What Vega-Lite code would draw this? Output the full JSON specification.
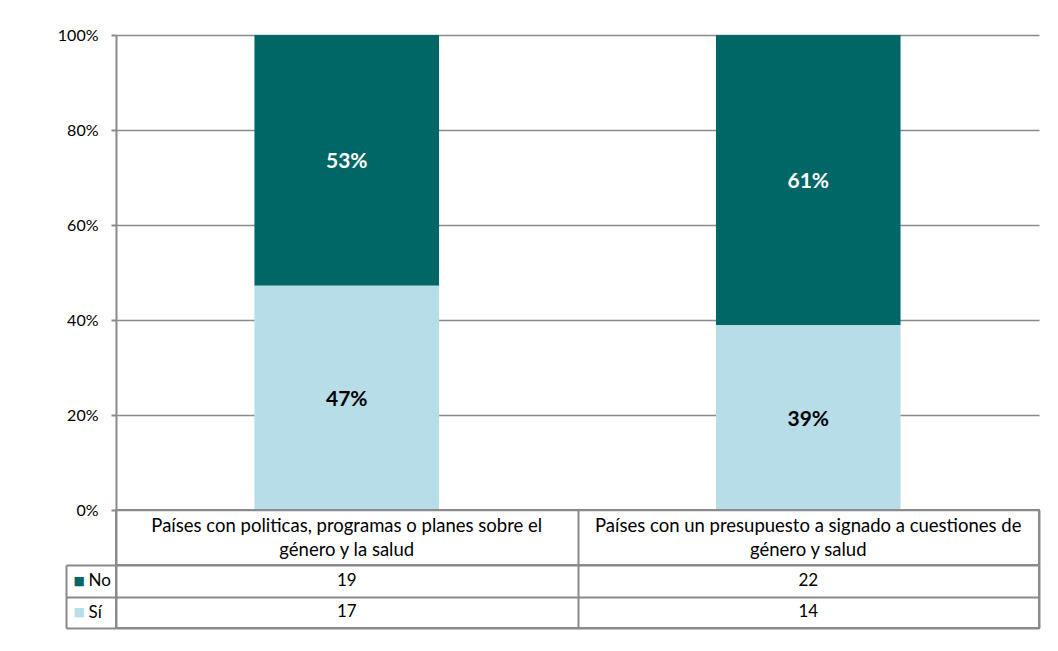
{
  "$schema": "https://vega.github.io/schema/vega-lite/v6.json",
  "padding": {"left": 57, "top": 27, "right": 14, "bottom": 20},
  "background": "white",
  "config": {
    "font": "Lato",
    "view": {"stroke": null},
    "axis": {"labelFont": "Lato", "labelColor": "#000000", "domainColor": "#8a8a8a", "tickColor": "#8a8a8a", "gridColor": "#8a8a8a", "domainWidth": 2, "tickWidth": 2, "gridWidth": 1.3},
    "text": {"font": "Lato", "color": "#000000"}
  },
  "data": {
    "values": [
      {"cat": "Países con politicas, programas o planes sobre el\ngénero y la salud", "serie": "No", "n": 19, "pct": "53%"},
      {"cat": "Países con politicas, programas o planes sobre el\ngénero y la salud", "serie": "Sí", "n": 17, "pct": "47%"},
      {"cat": "Países con un presupuesto a signado a cuestiones de\ngénero y salud", "serie": "No", "n": 22, "pct": "61%"},
      {"cat": "Países con un presupuesto a signado a cuestiones de\ngénero y salud", "serie": "Sí", "n": 14, "pct": "39%"}
    ]
  },
  "spacing": 0,
  "bounds": "flush",
  "vconcat": [
    {
      "width": 923,
      "height": 475,
      "layer": [
        {
          "mark": {"type": "bar", "width": {"band": 0.4}},
          "encoding": {
            "x": {"field": "cat", "type": "nominal", "sort": null, "scale": {"paddingInner": 0, "paddingOuter": 0}, "axis": null},
            "y": {"field": "n", "type": "quantitative", "stack": "normalize", "scale": {"domain": [0, 1], "nice": false},
                  "axis": {"values": [0, 0.2, 0.4, 0.6, 0.8, 1], "format": ".0%", "title": null, "grid": true, "domain": true, "tickSize": 5, "labelPadding": 13, "labelFontSize": 16}},
            "color": {"field": "serie", "type": "nominal", "scale": {"domain": ["No", "Sí"], "range": ["#006666", "#b7dde8"]}, "legend": null},
            "order": {"field": "serie", "sort": "descending"}
          }
        },
        {
          "mark": {"type": "text", "fontSize": 21, "fontWeight": "bold", "baseline": "middle", "dy": 2},
          "encoding": {
            "x": {"field": "cat", "type": "nominal", "sort": null},
            "y": {"field": "n", "type": "quantitative", "stack": "normalize", "bandPosition": 0.5},
            "detail": {"field": "serie"},
            "order": {"field": "serie", "sort": "descending"},
            "text": {"field": "pct"},
            "color": {"condition": {"test": "datum.serie === 'No'", "value": "#ffffff"}, "value": "#000000"}
          }
        }
      ]
    },
    {
      "width": 923,
      "height": 55,
      "view": {"stroke": "#8a8a8a", "strokeWidth": 2},
      "transform": [{"filter": "datum.serie === 'No'"}],
      "mark": {"type": "text", "fontSize": 18.5, "lineHeight": 24, "lineBreak": "\n", "baseline": "middle", "dy": -12},
      "encoding": {
        "x": {"field": "cat", "type": "nominal", "sort": null, "scale": {"paddingInner": 0, "paddingOuter": 0},
              "axis": {"title": null, "labels": false, "ticks": false, "domain": false, "grid": true, "gridWidth": 2, "tickBand": "extent"}},
        "text": {"field": "cat"}
      }
    },
    {
      "width": 923,
      "height": 63,
      "view": {"stroke": "#8a8a8a", "strokeWidth": 2},
      "layer": [
        {
          "mark": {"type": "text", "fontSize": 17, "baseline": "middle"},
          "encoding": {
            "x": {"field": "cat", "type": "nominal", "sort": null, "scale": {"paddingInner": 0, "paddingOuter": 0},
                  "axis": {"title": null, "labels": false, "ticks": false, "domain": false, "grid": true, "gridWidth": 2, "tickBand": "extent"}},
            "y": {"field": "serie", "type": "nominal", "sort": ["No", "Sí"], "scale": {"paddingInner": 0, "paddingOuter": 0},
                  "axis": {"title": null, "domain": false, "ticks": true, "tickSize": 50, "tickBand": "extent", "grid": true, "gridWidth": 2,
                           "labelAlign": "left", "labelPadding": -22, "labelFontSize": 17, "labelBaseline": "middle"}},
            "text": {"field": "n"}
          }
        },
        {
          "mark": {"type": "text", "text": "", "baseline": "middle"},
          "encoding": {
            "y": {"field": "serie", "type": "nominal", "sort": ["No", "Sí"],
                  "axis": {"orient": "left", "offset": 50, "title": null, "domain": true, "ticks": false, "tickSize": 0, "grid": false,
                           "labelExpr": "'■'", "labelFont": "DejaVu Sans", "labelFontSize": 12, "labelAlign": "left", "labelPadding": -7, "labelBaseline": "middle",
                           "labelColor": {"condition": {"test": "datum.value === 'No'", "value": "#006666"}, "value": "#b7dde8"}}}
          }
        }
      ],
      "resolve": {"axis": {"y": "independent"}}
    }
  ]
}
